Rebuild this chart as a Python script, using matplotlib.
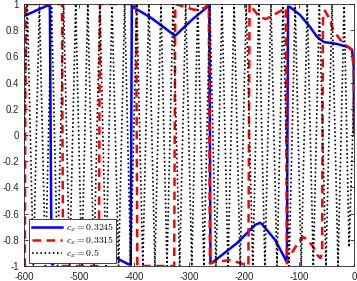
import numpy as np
import matplotlib
matplotlib.use('Agg')
import matplotlib.pyplot as plt

plt.rcParams['mathtext.fontset'] = 'cm'
plt.rcParams['font.family'] = ['Liberation Sans', 'DejaVu Sans']

# c_x = 0.3245 (blue, solid)
blue_x = [-600, -578, -556, -553, -550, -548, -530, -500, -480, -460, -440,
          -425, -411, -406, -404, -402, -371, -344, -325.5, -294.5, -263,
          -261, -256.4, -212.7, -180, -171, -167.3, -143.6, -122, -120,
          -116.4, -98, -80, -67.3, -55, -31, -9.6, -3.6, -0.5, 0]
blue_y = [0.908, 0.95, 0.99, 0.99, -0.98, -0.99, -0.9, -0.78, -0.76, -0.84,
          -0.916, -0.955, -0.985, -0.99, 0.99, 0.977, 0.90, 0.817, 0.756,
          0.88, 0.99, -0.98, -0.97, -0.825, -0.687, -0.67, -0.68, -0.80,
          -0.97, 0.98, 0.977, 0.916, 0.825, 0.75, 0.71, 0.695, 0.67, 0.65,
          0.52, 0.03]

# c_x = 0.3315 (red, dashed)
red_x = [-600, -598.5, -597, -531, -529, -464, -462, -396, -394, -327, -325,
         -310, -290, -272, -264, -262, -255, -225, -205, -196, -192, -190,
         -183, -172, -160, -145, -128, -124, -122, -121, -116, -100, -92,
         -84, -75, -66, -61, -58, -56.5, -53, -43.6, -38, -21.8, -7.3,
         -3.6, -0.5, 0]
red_y = [-1, -1, 1, 1, -1, -1, 1, 1, -1, -1, 1,
         0.98, 0.955, 0.97, 1, -0.98, -0.97, -0.955, -0.98, -1, -0.99, 1,
         0.96, 0.9, 0.885, 0.92, 0.96, 0.97, -0.98, -0.96, -0.92, -0.81,
         -0.78, -0.80, -0.85, -0.92, -0.94, -0.9, 0.88, 0.95, 0.878, 0.80,
         0.71, 0.66, 0.65, 0.5, 0.0]

# c_x = 0.5 (black, dotted) -- extrema
black_peaks = [-594, -572, -550, -528, -506, -484, -462, -440, -417, -395,
               -373, -351, -329, -306, -284, -262, -240, -218, -196, -173,
               -151, -129, -107, -85, -63, -40, -18]
black_troughs = [-583, -561, -539, -517, -495, -473, -451, -428, -406, -384,
                 -362, -340, -317, -295, -273, -251, -229, -207, -184, -162,
                 -140, -118, -96, -74, -51, -29, -9]
black_start = (-600, -0.1)
black_end = (0, 0.3)
black_last_trough = -0.855

labels = ['$c_x = 0.3245$', '$c_x = 0.3315$', '$c_x = 0.5$']
xticks = [-600, -500, -400, -300, -200, -100, 0]
xticklabels = ['-600', '-500', '-400', '-300', '-200', '-100', '0']
yticks = [-1, -0.8, -0.6, -0.4, -0.2, 0, 0.2, 0.4, 0.6, 0.8, 1]
yticklabels = ['-1', '-0.8', '-0.6', '-0.4', '-0.2', '0', '0.2', '0.4',
               '0.6', '0.8', '1']

# build black zigzag from extrema
bx = [black_start[0]]
by = [black_start[1]]
for p, t in zip(black_peaks, black_troughs):
    bx += [p, t]
    by += [1, -1]
by[-1] = black_last_trough
bx.append(black_end[0])
by.append(black_end[1])

fig = plt.figure(figsize=(3.57, 2.81), dpi=100)
ax = fig.add_axes([24/357, 15/281, 330/357, 262/281])

ax.plot(blue_x, blue_y, color='b', lw=1.8, label=labels[0])
ax.plot(red_x, red_y, color='r', lw=1.8, ls=(0, (3.4, 2.2)), label=labels[1])
ax.plot(bx, by, color='k', lw=1.2, ls=(0, (1, 1.5)), label=labels[2])

ax.set_xlim(-600, 0)
ax.set_ylim(-1, 1)
ax.set_xticks(xticks)
ax.set_xticklabels(xticklabels)
ax.set_yticks(yticks)
ax.set_yticklabels(yticklabels)
ax.tick_params(direction='in', top=True, right=True, length=3, width=0.6,
               labelsize=7, colors='#262626')
ax.tick_params(axis='x', pad=4.5)
ax.tick_params(axis='y', pad=3.5)
for s in ax.spines.values():
    s.set_color('#262626')
    s.set_linewidth(0.6)

leg = ax.legend(loc='lower left', bbox_to_anchor=(0.016, 0.012), fontsize=7,
                handlelength=3.1, handletextpad=0.4, labelspacing=0.05,
                borderpad=0.25, borderaxespad=0, fancybox=False, framealpha=1)
leg.get_frame().set_edgecolor('#262626')
leg.get_frame().set_linewidth(0.6)

fig.savefig('out.png', dpi=100)
